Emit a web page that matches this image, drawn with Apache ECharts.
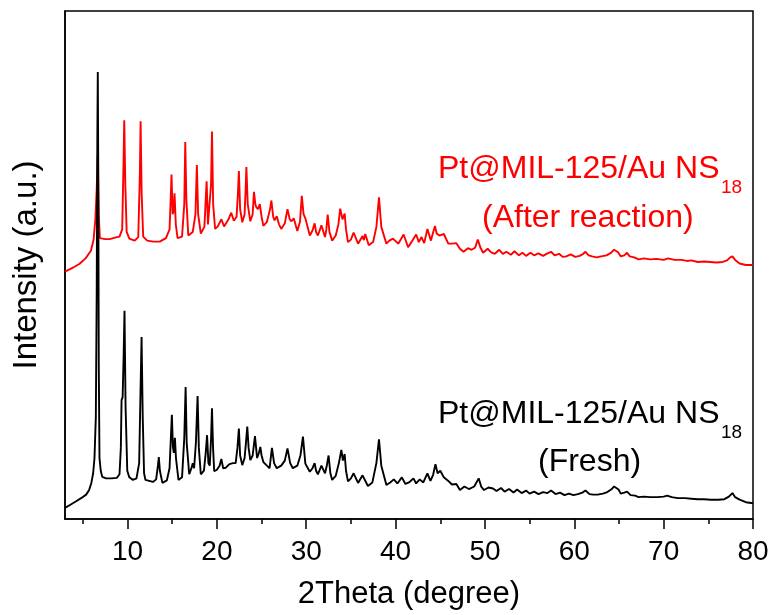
<!DOCTYPE html>
<html>
<head>
<meta charset="utf-8">
<style>
  html, body { margin: 0; padding: 0; background: #fff; }
  #chart { width: 777px; height: 615px; }
</style>
<script src="https://cdn.jsdelivr.net/npm/echarts@6/dist/echarts.min.js"></script>
</head>
<body>
<div id="chart"></div>
<script>
// XRD patterns, 2Theta (degree) vs intensity (a.u.)
var majorTicks = [10, 20, 30, 40, 50, 60, 70, 80];
var minorTicks = [5, 15, 25, 35, 45, 55, 65, 75];

// Pt@MIL-125/Au NS18 after reaction (offset upward)
var afterReaction = [
  [3,48.7],[4,49.6],[4.6,50.2],[5.3,51.3],[5.9,52.8],[6.2,55],[6.4,59],[6.55,65],[6.67,71.8],[6.78,60],[6.9,55.3],
  [7.5,55.1],[8,55.1],[8.6,55.4],[9.1,55.6],[9.4,57],[9.55,70],[9.63,78.5],[9.75,66],[9.9,56.5],[10.2,55.2],
  [10.8,54.8],[11.2,55.5],[11.38,68],[11.46,78.3],[11.58,64],[11.75,55.6],[12.2,54.8],[12.9,54.6],[13.6,54.6],
  [14.3,55.3],[14.7,57],[14.85,64],[14.92,67.8],[15.05,60],[15.15,60.5],[15.26,64.1],[15.4,58],[15.6,55.3],
  [16.1,55.6],[16.35,62],[16.46,74.2],[16.58,63],[16.8,55.8],[17.3,56.5],[17.6,60],[17.76,69.7],[17.9,60],
  [18.2,56.2],[18.6,57.5],[18.85,66.5],[19.0,58],[19.2,58],[19.35,66],[19.45,76.3],[19.58,62],[19.8,57.1],
  [20.1,57.6],[20.5,59],[20.8,57.6],[21.0,57.9],[21.3,59],[21.6,60.3],[21.9,58.7],[22.2,59.5],[22.35,64],
  [22.46,68.5],[22.6,61],[22.84,58.4],[23.1,60],[23.22,65],[23.3,69.3],[23.45,62],[23.74,58.6],[24.0,60],
  [24.15,64.4],[24.3,62],[24.4,61.4],[24.6,61],[24.8,62],[25.0,59.5],[25.2,57.7],[25.6,58.5],[25.95,61],
  [26.1,62.7],[26.3,59.5],[26.45,58.8],[26.7,59.6],[26.95,58],[27.2,57.1],[27.6,58.2],[27.9,61],[28.15,59],
  [28.35,58.6],[28.6,59.2],[29.0,56.7],[29.3,58.5],[29.5,63.6],[29.7,60],[29.9,59.2],[30.4,55.8],[30.7,56.8],
  [30.94,58.2],[31.1,56.5],[31.3,55.8],[31.7,57.8],[32.1,55.5],[32.25,57],[32.4,59.9],[32.6,56.5],[32.9,54.8],
  [33.3,55.8],[33.6,58],[33.8,61.1],[34.05,59],[34.3,60.1],[34.45,57],[34.67,54.5],[35.0,55],[35.3,56.4],
  [35.8,54.2],[36.3,55.7],[36.45,54.9],[36.6,56.1],[37.0,53.9],[37.5,54.6],[37.85,57.5],[38.14,63.3],[38.4,57.5],
  [38.97,54.2],[39.3,54.8],[39.7,55.2],[40.3,54.2],[40.9,56],[41.4,53.5],[41.8,54.6],[42.3,56],[42.6,54.5],
  [42.9,55.5],[43.2,54.3],[43.56,57.1],[43.95,54.8],[44.4,57.7],[44.6,56.2],[44.9,55.8],[45.4,56.1],[45.9,54.2],
  [46.3,54.2],[46.8,54.3],[47.2,53.2],[47.6,52.6],[48.1,53.3],[48.5,53.0],[48.9,53.4],[49.2,55],[49.5,53.4],
  [49.8,52.4],[50.3,53.2],[50.7,52.5],[51.1,52.2],[51.6,53],[52.0,52.2],[52.4,52.6],[52.9,52],[53.3,52.7],
  [53.8,51.9],[54.2,52.4],[54.6,51.8],[55.1,52.4],[55.5,51.9],[56.0,52.3],[56.5,51.8],[57.0,52.3],[57.4,52.6],
  [57.8,51.9],[58.3,52.2],[58.7,51.6],[59.1,51.7],[59.6,52.1],[60.1,51.6],[60.6,51.8],[61.0,52.2],[61.25,52.6],
  [61.6,51.9],[62.0,51.7],[62.5,51.5],[63.0,51.7],[63.6,51.9],[64.1,52.4],[64.45,53],[64.65,53.3],[64.9,52.5],
  [65.2,51.7],[65.6,51.9],[65.9,52.4],[66.2,51.7],[66.7,51.5],[67.2,51.1],[67.8,51.3],[68.5,51.1],[69.2,51.2],
  [70.0,51.0],[70.5,51.3],[71.2,51.0],[72.0,51.0],[72.6,50.8],[73.1,50.9],[73.8,50.6],[74.5,50.7],[75.2,50.6],
  [75.9,50.5],[76.6,50.6],[77.1,50.9],[77.45,51.5],[77.7,51.7],[78.0,51.0],[78.5,50.3],[79.2,50.0],[80,50.0]
];

// Pt@MIL-125/Au NS18 fresh
var fresh = [
  [3,2.2],[3.6,2.8],[4.25,3.5],[4.8,4.1],[5.37,4.8],[5.7,5.7],[5.95,7.1],[6.15,9],[6.3,12],[6.45,20],[6.55,45],
  [6.62,75],[6.67,88],[6.72,70],[6.78,30],[6.86,12],[7.0,9.5],[7.17,8.3],[7.6,8.0],[8.2,8.0],[8.8,8.1],[9.1,8.8],
  [9.25,14],[9.33,23.4],[9.45,24],[9.56,32],[9.66,41],[9.78,22],[9.97,9.5],[10.2,8.2],[10.6,7.7],[11.0,8.0],
  [11.3,11],[11.45,25],[11.57,35.8],[11.7,20],[11.85,9],[12.0,7.7],[12.84,7.3],[13.2,7.8],[13.4,10.5],[13.5,12.2],
  [13.62,9.5],[13.9,7.1],[14.4,7.6],[14.7,10],[14.85,16],[14.96,20.5],[15.08,14.2],[15.18,13],[15.3,16],[15.42,12],
  [15.7,7.7],[16.1,8.2],[16.35,16],[16.5,26],[16.62,15],[16.9,8.8],[17.15,10],[17.3,11],[17.45,10],[17.65,15],
  [17.84,24.2],[17.98,14],[18.2,8.8],[18.55,9.5],[18.75,13],[18.9,16.5],[19.05,11],[19.2,10.5],[19.35,16],
  [19.45,21.8],[19.57,14],[19.7,9.4],[20.0,9.7],[20.3,10.5],[20.5,11.8],[20.7,10],[21.0,10.1],[21.4,10.8],
  [21.8,11],[22.1,11],[22.3,14],[22.46,17.8],[22.6,12.5],[22.84,10.6],[23.1,12],[23.25,15],[23.4,18.2],
  [23.55,14],[23.74,11.6],[24.0,12.5],[24.26,16.3],[24.5,12],[24.7,13],[24.86,14.2],[25.0,12.5],[25.2,11.2],
  [25.6,10.5],[25.9,10],[26.16,14],[26.4,11],[26.7,10],[27.2,10.5],[27.6,11.5],[27.9,13.9],[28.2,11],[28.5,10],
  [29.0,10.5],[29.35,12.5],[29.63,16.2],[29.9,10.9],[30.4,9.3],[30.7,10],[30.94,11],[31.1,9.5],[31.3,8.8],
  [31.7,10.5],[32.1,9],[32.3,10.5],[32.5,12.5],[32.7,9],[32.9,7.7],[33.3,8.5],[33.65,11],[33.93,13.6],[34.1,11.5],
  [34.3,12.8],[34.45,9.5],[34.67,7.4],[35.0,8],[35.3,9],[35.8,7.1],[36.3,8.6],[36.9,6.5],[37.4,7.2],[37.85,11],
  [38.14,15.7],[38.4,10.5],[38.97,6.7],[39.4,7.2],[39.8,7.8],[40.2,7],[40.7,8.2],[41.1,6.9],[41.5,7.2],[42.0,8],
  [42.3,7],[42.7,7.8],[43.1,7.2],[43.56,9],[43.9,7.5],[44.2,8.7],[44.46,10.8],[44.7,9],[45.0,9.5],[45.4,8.2],
  [45.9,7.5],[46.3,6.8],[46.8,6.9],[47.2,5.7],[47.7,6.4],[48.2,5.9],[48.8,6.4],[49.3,8.0],[49.6,6.3],[49.9,5.7],
  [50.4,6.2],[50.9,6],[51.3,5.5],[51.8,6.1],[52.2,5.4],[52.7,5.9],[53.2,5.2],[53.6,5.8],[54.1,5.1],[54.6,5.6],
  [55.0,5.0],[55.5,5.4],[56.0,4.9],[56.5,5.3],[57.0,5.1],[57.4,5.6],[57.9,4.9],[58.4,5.2],[58.9,4.7],[59.4,5.0],
  [59.9,4.7],[60.4,4.9],[60.9,5.2],[61.25,5.6],[61.7,4.9],[62.1,4.8],[62.6,4.8],[63.2,5.0],[63.7,5.3],[64.2,5.9],
  [64.45,6.4],[64.65,6.7],[64.95,5.8],[65.2,5.0],[65.6,5.2],[65.9,5.4],[66.3,4.7],[66.8,4.6],[67.2,4.3],[67.8,4.4],
  [68.5,4.3],[69.3,4.3],[70.0,4.4],[70.4,4.6],[70.9,4.3],[71.6,4.1],[72.4,4.1],[73.1,4.0],[73.8,3.9],[74.5,3.9],
  [75.3,3.8],[76.1,3.8],[76.8,3.9],[77.3,4.4],[77.7,5.1],[78.0,4.3],[78.5,3.8],[79.2,3.3],[80,3.1]
];

var FONT = '"Liberation Sans", Arial, sans-serif';

var chart = echarts.init(document.getElementById('chart'), null, { renderer: 'canvas' });

chart.setOption({
  animation: false,
  backgroundColor: '#fff',
  textStyle: { fontFamily: FONT },
  grid: {
    left: 65, right: 24, top: 11, bottom: 94,
    show: true, borderColor: '#000', borderWidth: 1.5
  },
  xAxis: [
    {
      type: 'value', min: 3, max: 80,
      name: '2Theta (degree)', nameLocation: 'middle', nameGap: 60,
      nameTextStyle: { fontSize: 31, color: '#000', fontFamily: FONT },
      axisLine: { show: true, lineStyle: { color: '#000', width: 1.5 } },
      axisTick: { show: true, inside: false, length: 10, customValues: majorTicks, lineStyle: { color: '#000', width: 1.5 } },
      axisLabel: { show: true, customValues: majorTicks, margin: 19, fontSize: 28, color: '#000', fontFamily: FONT },
      splitLine: { show: false }
    },
    {
      type: 'value', min: 3, max: 80, position: 'bottom',
      axisLine: { show: false },
      axisTick: { show: true, inside: false, length: 5, customValues: minorTicks, lineStyle: { color: '#000', width: 1.5 } },
      axisLabel: { show: false },
      splitLine: { show: false }
    }
  ],
  yAxis: {
    type: 'value', min: 0, max: 100,
    name: 'Intensity (a.u.)', nameLocation: 'middle', nameGap: 22,
    nameTextStyle: { fontSize: 33, color: '#000', fontFamily: FONT },
    axisLine: { show: true, lineStyle: { color: '#000', width: 1.5 } },
    axisTick: { show: false },
    axisLabel: { show: false },
    splitLine: { show: false }
  },
  series: [
    {
      name: 'After reaction', type: 'line', data: afterReaction,
      showSymbol: false, symbol: 'none',
      lineStyle: { color: '#ff0000', width: 1.9 }, z: 2
    },
    {
      name: 'Fresh', type: 'line', data: fresh,
      showSymbol: false, symbol: 'none',
      lineStyle: { color: '#000000', width: 1.9 }, z: 3
    }
  ],
  graphic: [
    { type: 'text', left: 438, top: 153, z: 10,
      style: { text: 'Pt@MIL-125/Au NS', fill: '#ff0000', font: '32px ' + FONT } },
    { type: 'text', left: 721, top: 178, z: 10,
      style: { text: '18', fill: '#ff0000', font: '19px ' + FONT } },
    { type: 'text', left: 482, top: 202, z: 10,
      style: { text: '(After reaction)', fill: '#ff0000', font: '32px ' + FONT } },
    { type: 'text', left: 438, top: 398, z: 10,
      style: { text: 'Pt@MIL-125/Au NS', fill: '#000', font: '32px ' + FONT } },
    { type: 'text', left: 721, top: 423, z: 10,
      style: { text: '18', fill: '#000', font: '19px ' + FONT } },
    { type: 'text', left: 538, top: 446, z: 10,
      style: { text: '(Fresh)', fill: '#000', font: '32px ' + FONT } }
  ]
});
</script>
</body>
</html>
